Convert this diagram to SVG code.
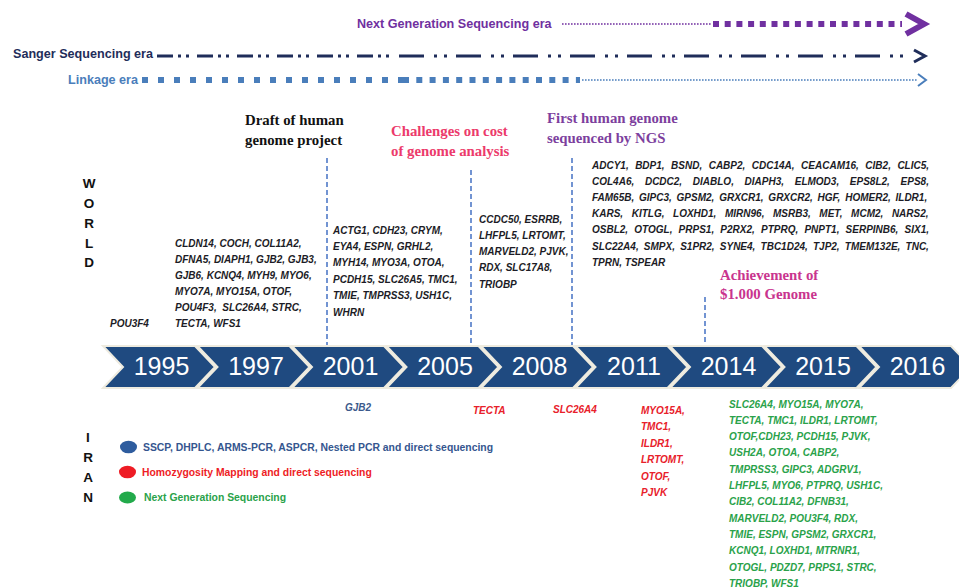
<svg xmlns="http://www.w3.org/2000/svg" xmlns:xlink="http://www.w3.org/1999/xlink" width="959" height="588" viewBox="0 0 959 588">
  <style>
    .era { font-family: "Liberation Sans", Arial, sans-serif; font-weight: bold; font-size: 12.6px; }
    .mile { font-family: "Liberation Serif", "Times New Roman", serif; font-weight: bold; font-size: 14.8px; }
    .gene { font-family: "Liberation Sans", Arial, sans-serif; font-weight: bold; font-style: italic; font-size: 10px; }
    .world { fill: #1c1c26; }
    .red { fill: #e8202a; }
    .green { fill: #2aa24a; }
    .side { font-family: "Liberation Sans", Arial, sans-serif; font-weight: bold; font-size: 13.5px; fill: #111; text-anchor: middle; }
    .legend { font-family: "Liberation Sans", Arial, sans-serif; font-weight: bold; font-size: 10.4px; }
    .year { font-family: "Liberation Sans", Arial, sans-serif; font-size: 25px; fill: #ffffff; text-anchor: middle; }
    .chev { fill: #1f4a80; stroke: #eeebdf; stroke-width: 2; }
    .vdash { stroke: #4472c4; stroke-width: 1.5; stroke-dasharray: 5 3; fill: none; }
  </style>
  <defs>
    <path id="chevron" d="M0,0 H92 L112,21 L92,42 H0 L20,21 Z"/>
  </defs>
  <rect width="959" height="588" fill="#ffffff"/>

  <!-- era bars -->
  <g id="era-ngs">
    <text class="era" x="357" y="27.5" fill="#7030a0">Next Generation Sequencing era</text>
    <line x1="562" y1="24" x2="712" y2="24" stroke="#7030a0" stroke-width="1.6" stroke-dasharray="1.6 1.4"/>
    <line x1="713" y1="24" x2="902" y2="24" stroke="#7030a0" stroke-width="6" stroke-dasharray="6 5.7"/>
    <polyline points="906,14 924,24 906,34" fill="none" stroke="#7030a0" stroke-width="6"/>
  </g>
  <g id="era-sanger">
    <text class="era" x="13" y="57.5" fill="#1f2d5a">Sanger Sequencing era</text>
    <line x1="157" y1="56" x2="392" y2="56" stroke="#1f2d5a" stroke-width="3" stroke-dasharray="16 5 3 5 3 8"/>
    <line x1="399" y1="56" x2="911" y2="56" stroke="#1f2d5a" stroke-width="3" stroke-dasharray="25 10 3 7 3 9"/>
    <polyline points="914,50 925,56 914,62" fill="none" stroke="#1f2d5a" stroke-width="3"/>
  </g>
  <g id="era-linkage">
    <text class="era" x="68" y="83.5" fill="#4a7ebb">Linkage era</text>
    <line x1="142" y1="80" x2="403" y2="80" stroke="#4a7ebb" stroke-width="6" stroke-dasharray="6 10"/>
    <line x1="403" y1="80" x2="580" y2="80" stroke="#4a7ebb" stroke-width="6" stroke-dasharray="6 7.3"/>
    <line x1="582" y1="80" x2="918" y2="80" stroke="#4a7ebb" stroke-width="1.6" stroke-dasharray="1.6 1.4"/>
    <polyline points="918,74 926,80 918,86" fill="none" stroke="#4a7ebb" stroke-width="2"/>
  </g>

  <!-- milestone captions -->
  <g id="milestone-draft">
    <text class="mile" x="245" y="124.5" fill="#111111">Draft of human</text>
    <text class="mile" x="245" y="144.5" fill="#111111">genome project</text>
  </g>
  <g id="milestone-cost">
    <text class="mile" x="391" y="136" fill="#ec3a6b">Challenges on cost</text>
    <text class="mile" x="391" y="156" fill="#ec3a6b">of genome analysis</text>
  </g>
  <g id="milestone-ngs">
    <text class="mile" x="547" y="123" fill="#7d3f9e">First human genome</text>
    <text class="mile" x="547" y="143" fill="#7d3f9e">sequenced by NGS</text>
  </g>
  <g id="milestone-1000">
    <text class="mile" x="720" y="280" fill="#c9348e">Achievement of</text>
    <text class="mile" x="720" y="299" fill="#c9348e">$1.000 Genome</text>
  </g>

  <!-- dashed period markers -->
  <g id="connectors">
    <line class="vdash" x1="327" y1="158" x2="327" y2="345"/>
    <line class="vdash" x1="471" y1="170" x2="471" y2="345"/>
    <line class="vdash" x1="572" y1="158" x2="572" y2="345"/>
    <line class="vdash" x1="705" y1="297" x2="705" y2="345"/>
  </g>

  <!-- side labels -->
  <g id="label-world">
    <text class="side" x="89" y="188">W</text>
    <text class="side" x="89" y="208">O</text>
    <text class="side" x="89" y="228">R</text>
    <text class="side" x="89" y="247.5">L</text>
    <text class="side" x="89" y="267">D</text>
  </g>
  <g id="label-iran">
    <text class="side" x="88" y="442">I</text>
    <text class="side" x="88" y="462">R</text>
    <text class="side" x="88" y="482">A</text>
    <text class="side" x="88" y="502">N</text>
  </g>

  <!-- world gene lists -->
  <g id="world-1995" class="gene world">
    <text x="110" y="326.5">POU3F4</text>
  </g>
  <g id="world-1997" class="gene world">
    <text x="175" y="246.5">CLDN14, COCH, COL11A2,</text>
    <text x="175" y="262.5">DFNA5, DIAPH1, GJB2, GJB3,</text>
    <text x="175" y="278.5">GJB6, KCNQ4, MYH9, MYO6,</text>
    <text x="175" y="294.5">MYO7A, MYO15A, OTOF,</text>
    <text x="175" y="310.5" xml:space="preserve">POU4F3,  SLC26A4, STRC,</text>
    <text x="175" y="326.5">TECTA, WFS1</text>
  </g>
  <g id="world-2001" class="gene world">
    <text x="333" y="233.5">ACTG1, CDH23, CRYM,</text>
    <text x="333" y="249.9">EYA4, ESPN, GRHL2,</text>
    <text x="333" y="266.3">MYH14, MYO3A, OTOA,</text>
    <text x="333" y="282.7">PCDH15, SLC26A5, TMC1,</text>
    <text x="333" y="299.1">TMIE, TMPRSS3, USH1C,</text>
    <text x="333" y="315.5">WHRN</text>
  </g>
  <g id="world-2005" class="gene world">
    <text x="479" y="222.5">CCDC50, ESRRB,</text>
    <text x="479" y="238.8">LHFPL5, LRTOMT,</text>
    <text x="479" y="255.1">MARVELD2, PJVK,</text>
    <text x="479" y="271.4">RDX, SLC17A8,</text>
    <text x="479" y="287.7">TRIOBP</text>
  </g>
  <g id="world-2011" class="gene world">
    <text x="592" y="168.5" style="word-spacing:3.7px">ADCY1, BDP1, BSND, CABP2, CDC14A, CEACAM16, CIB2, CLIC5,</text>
    <text x="592" y="184.7" style="word-spacing:7.9px">COL4A6, DCDC2, DIABLO, DIAPH3, ELMOD3, EPS8L2, EPS8,</text>
    <text x="592" y="200.9" style="word-spacing:2.0px">FAM65B, GIPC3, GPSM2, GRXCR1, GRXCR2, HGF, HOMER2, ILDR1,</text>
    <text x="592" y="217.1" style="word-spacing:5.8px">KARS, KITLG, LOXHD1, MIRN96, MSRB3, MET, MCM2, NARS2,</text>
    <text x="592" y="233.3" style="word-spacing:3.4px">OSBL2, OTOGL, PRPS1, P2RX2, PTPRQ, PNPT1, SERPINB6, SIX1,</text>
    <text x="592" y="249.5" style="word-spacing:2.4px">SLC22A4, SMPX, S1PR2, SYNE4, TBC1D24, TJP2, TMEM132E, TNC,</text>
    <text x="592" y="265.7">TPRN, TSPEAR</text>
  </g>

  <!-- timeline -->
  <g id="timeline">
    <g id="y1995"><use xlink:href="#chevron" class="chev" transform="translate(103,346)"/><text class="year" x="161.5" y="375">1995</text></g>
    <g id="y1997"><use xlink:href="#chevron" class="chev" transform="translate(197.5,346)"/><text class="year" x="256" y="375">1997</text></g>
    <g id="y2001"><use xlink:href="#chevron" class="chev" transform="translate(292,346)"/><text class="year" x="350.5" y="375">2001</text></g>
    <g id="y2005"><use xlink:href="#chevron" class="chev" transform="translate(386.5,346)"/><text class="year" x="445" y="375">2005</text></g>
    <g id="y2008"><use xlink:href="#chevron" class="chev" transform="translate(481,346)"/><text class="year" x="539.5" y="375">2008</text></g>
    <g id="y2011"><use xlink:href="#chevron" class="chev" transform="translate(575.5,346)"/><text class="year" x="634" y="375">2011</text></g>
    <g id="y2014"><use xlink:href="#chevron" class="chev" transform="translate(670,346)"/><text class="year" x="728.5" y="375">2014</text></g>
    <g id="y2015"><use xlink:href="#chevron" class="chev" transform="translate(764.5,346)"/><text class="year" x="823" y="375">2015</text></g>
    <g id="y2016"><use xlink:href="#chevron" class="chev" transform="translate(859,346)"/><text class="year" x="917.5" y="375">2016</text></g>
  </g>

  <!-- Iran gene lists -->
  <g id="iran-2001" class="gene">
    <text x="345" y="410.5" fill="#3b5a8c">GJB2</text>
  </g>
  <g id="iran-2005" class="gene red">
    <text x="473" y="413.5">TECTA</text>
  </g>
  <g id="iran-2008" class="gene red">
    <text x="553" y="412.5">SLC26A4</text>
  </g>
  <g id="iran-2011" class="gene red">
    <text x="641" y="414">MYO15A,</text>
    <text x="641" y="430.4">TMC1,</text>
    <text x="641" y="446.8">ILDR1,</text>
    <text x="641" y="463.2">LRTOMT,</text>
    <text x="641" y="479.6">OTOF,</text>
    <text x="641" y="496">PJVK</text>
  </g>
  <g id="iran-2014" class="gene green">
    <text x="729" y="407.5">SLC26A4, MYO15A, MYO7A,</text>
    <text x="729" y="423.8">TECTA, TMC1, ILDR1, LRTOMT,</text>
    <text x="729" y="440.1">OTOF,CDH23, PCDH15, PJVK,</text>
    <text x="729" y="456.4">USH2A, OTOA, CABP2,</text>
    <text x="729" y="472.7">TMPRSS3, GIPC3, ADGRV1,</text>
    <text x="729" y="489">LHFPL5, MYO6, PTPRQ, USH1C,</text>
    <text x="729" y="505.3">CIB2, COL11A2, DFNB31,</text>
    <text x="729" y="521.6">MARVELD2, POU3F4, RDX,</text>
    <text x="729" y="537.9">TMIE, ESPN, GPSM2, GRXCR1,</text>
    <text x="729" y="554.2">KCNQ1, LOXHD1, MTRNR1,</text>
    <text x="729" y="570.5">OTOGL, PDZD7, PRPS1, STRC,</text>
    <text x="729" y="586.8">TRIOBP, WFS1</text>
  </g>

  <!-- legend -->
  <g id="legend">
    <g id="legend-sanger">
      <ellipse cx="128.5" cy="447" rx="8.5" ry="6.3" fill="#2e5c9e"/>
      <text class="legend" x="143" y="451" fill="#35568f">SSCP, DHPLC, ARMS-PCR, ASPCR, Nested PCR and direct sequencing</text>
    </g>
    <g id="legend-homozygosity">
      <ellipse cx="127.5" cy="472" rx="8.5" ry="6.3" fill="#ee1c25"/>
      <text class="legend" x="142" y="476" fill="#ee1c25">Homozygosity Mapping and direct sequencing</text>
    </g>
    <g id="legend-ngs">
      <ellipse cx="127.5" cy="497.5" rx="8.5" ry="6" fill="#22aa4b"/>
      <text class="legend" x="144" y="501" fill="#2aa24a">Next Generation Sequencing</text>
    </g>
  </g>
</svg>
